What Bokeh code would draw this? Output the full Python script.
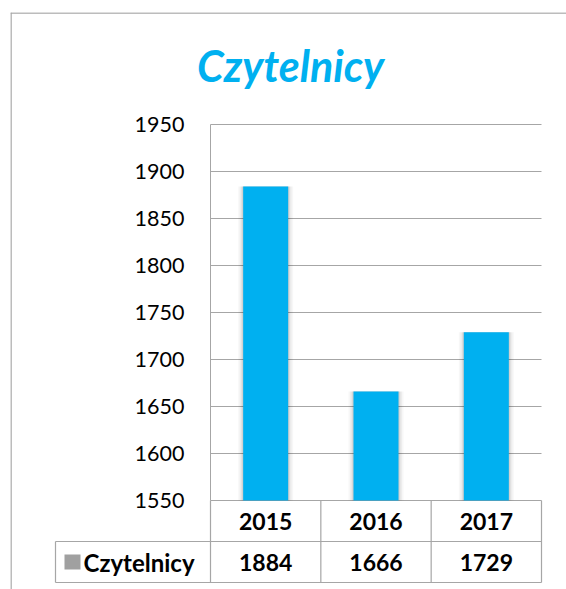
from bokeh.plotting import figure
from bokeh.models import ColumnDataSource, Range1d, Span
from bokeh.core.properties import value
from bokeh.embed import file_html
from bokeh.resources import INLINE

# ---- data ----
years = ["2015", "2016", "2017"]
readers = [1884, 1666, 1729]
series_name = "Czytelnicy"
chart_title = "Czytelnicy"
y_ticks = [1550, 1600, 1650, 1700, 1750, 1800, 1850, 1900, 1950]

# ---- layout (pixels inside the frame) ----
W, H = 566, 589
BL, BT = 10, 12                     # frame offset inside figure
FW, FH = W - BL, H - BT             # frame size
PL, PR = 200, 531                   # plot area left/right (frame px)
PT, PB = 112, 488                   # plot area top/bottom (frame px)
ymin, ymax = y_ticks[0], y_ticks[-1]
n = len(years)

xs = (PR - PL) / n                  # px per category
ys = (PB - PT) / (ymax - ymin)      # px per unit
x_start = -PL / xs
x_end = n + (FW - PR) / xs
y_end = ymax + PT / ys
y_start = ymin - (FH - PB) / ys

def px2x(fx):
    return x_start + fx / xs

def py2y(fy):
    return y_end - fy / ys

GRID = "#A6A6A6"
BLUE = "#00B0F0"
FONT = value("Lato")

p = figure(width=W, height=H, output_backend="svg", toolbar_location=None,
           x_range=Range1d(x_start, x_end), y_range=Range1d(y_start, y_end),
           min_border_left=BL, min_border_top=BT, min_border_right=0, min_border_bottom=0,
           outline_line_color=None)
p.xaxis.visible = False
p.yaxis.visible = False
p.xgrid.visible = False
p.ygrid.visible = False
p.background_fill_color = "white"
p.border_fill_color = "white"

# outer chart border (top and left)
p.add_layout(Span(location=px2x(0.5), dimension="height", line_color=GRID, line_width=1.5))
p.add_layout(Span(location=py2y(0.5), dimension="width", line_color=GRID, line_width=1.5))

# gridlines
p.segment(x0=[0] * len(y_ticks), y0=y_ticks, x1=[n] * len(y_ticks), y1=y_ticks,
          line_color=GRID, line_width=1)
# y axis line
p.segment(x0=[0], y0=[ymin], x1=[0], y1=[ymax], line_color=GRID, line_width=1)

# tick labels
p.text(x=[px2x(174)] * len(y_ticks), y=y_ticks, text=[str(t) for t in y_ticks],
       text_font=FONT, text_font_size="21.5px", text_align="right",
       text_baseline="middle", text_color="#000000")

# bars
cx = [i + 0.5 for i in range(n)]
src = ColumnDataSource(dict(x=cx, top=readers, year=years))
bw = 45 / xs
for extra, a in [(10, 0.03), (7, 0.04), (4, 0.06), (2, 0.08)]:
    p.vbar(x="x", top="top", bottom=ymin, width=bw + extra / xs, source=src,
           fill_color="#000000", fill_alpha=a, line_color=None)
p.vbar(x="x", top="top", bottom=ymin, width=bw, source=src,
       fill_color=BLUE, line_color=None)

# data table
row1_b = py2y(529)
row2_b = py2y(570)
leg_l = px2x(45)
p.segment(x0=[leg_l, leg_l], y0=[row1_b, row2_b], x1=[n, n], y1=[row1_b, row2_b],
          line_color=GRID, line_width=1.2)
vx = list(range(n + 1))
p.segment(x0=vx, y0=[ymin] * len(vx), x1=vx, y1=[row2_b] * len(vx),
          line_color=GRID, line_width=1.2)
p.segment(x0=[leg_l], y0=[row1_b], x1=[leg_l], y1=[row2_b], line_color=GRID, line_width=1.2)

r1_mid = (ymin + row1_b) / 2
r2_mid = (row1_b + row2_b) / 2
p.text(x=cx, y=[r1_mid] * n, text=years, text_font=FONT, text_font_size="23px",
       text_font_style="bold", text_align="center", text_baseline="middle",
       text_color="#000000")
p.text(x=cx, y=[r2_mid] * n, text=[str(v) for v in readers], text_font=FONT,
       text_font_size="23px", text_font_style="bold", text_align="center",
       text_baseline="middle", text_color="#000000")

# legend key + name
kx0, kx1 = px2x(54), px2x(70)
ky0, ky1 = py2y(557), py2y(542)
p.quad(left=[kx0], right=[kx1], bottom=[ky0], top=[ky1], fill_color="#A0A0A0",
       line_color=None)
p.text(x=[px2x(73)], y=[r2_mid], text=[series_name], text_font=FONT,
       text_font_size="24px", text_font_style="bold", text_align="left",
       text_baseline="middle", text_color="#000000")

# title
p.text(x=[px2x(280)], y=[py2y(53)], text=[chart_title], text_font=FONT,
       text_font_size="43px", text_font_style="bold italic", text_align="center",
       text_baseline="alphabetic", text_color=BLUE)

open("out.html", "w").write(file_html(p, INLINE))
